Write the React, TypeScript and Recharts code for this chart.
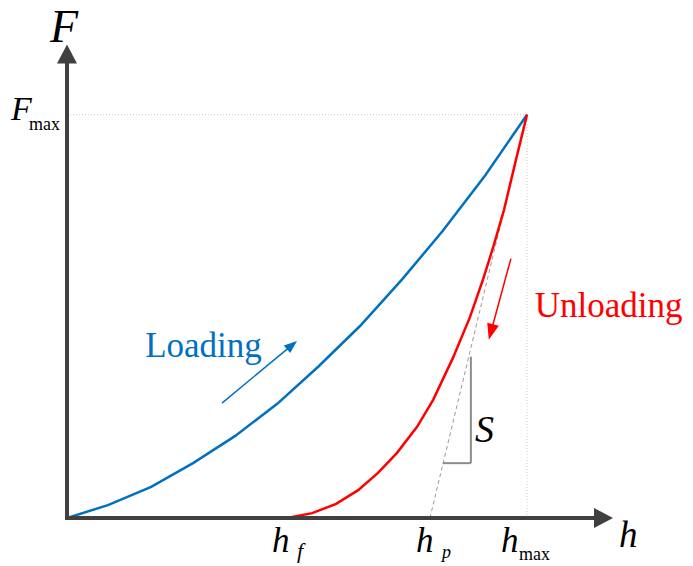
import React from 'react';
import { LineChart, Line, XAxis, YAxis, ReferenceLine, ReferenceDot } from 'recharts';

// Indentation depth h and load F, both normalised so that h_max = F_max = 100
const loadingH = [0, 8.9, 18.3, 27.4, 36.5, 45.7, 54.6, 63.7, 72.8, 81.7, 90.9, 100];
const loadingF = [0, 3.2, 7.7, 13.6, 20.3, 28.3, 37.5, 47.6, 59.1, 71.2, 84.9, 100];
const unloadingH = [47.8, 53.3, 58.5, 63.3, 67.6, 71.7, 76.1, 79.6, 83.9, 87.6, 90.4, 92.8, 95.0, 97.6, 100];
const unloadingF = [0, 1.2, 3.5, 6.9, 11.2, 16.1, 22.6, 29.3, 39.7, 49.8, 59.0, 67.7, 76.4, 88.8, 100];

const H_MAX = 100;
const F_MAX = 100;
const H_F = 47.8; // residual depth
const H_P = 78.9; // intercept of the unloading tangent
const AXIS_END_H = 118.7;
const AXIS_END_F = 117.4;

// Stiffness triangle under the tangent
const S_LEFT_H = 81.7;
const S_RIGHT_H = 87.8;
const S_BOTTOM_F = 13.6;
const S_TOP_F = 40.0;

const loadingData = loadingH.map((h, i) => ({ h, F: loadingF[i] }));
const unloadingData = unloadingH.map((h, i) => ({ h, F: unloadingF[i] }));

const SERIF = "'Liberation Serif', 'DejaVu Serif', serif";
const BLUE = '#0070C0';
const RED = '#FF0000';
const AXIS = '#404040';

const arrowShape = (color: string, width: number, headLen: number, headHalf: number, cap?: string) => (props: any) => {
  const { x1, y1, x2, y2 } = props;
  const dx = x2 - x1;
  const dy = y2 - y1;
  const len = Math.hypot(dx, dy) || 1;
  const ux = dx / len;
  const uy = dy / len;
  const bx = x2 - ux * headLen;
  const by = y2 - uy * headLen;
  const px = -uy;
  const py = ux;
  return (
    <g>
      <line x1={x1} y1={y1} x2={bx + ux * 1} y2={by + uy * 1} stroke={color} strokeWidth={width} strokeLinecap={(cap as any) || 'butt'} />
      <polygon
        points={`${x2},${y2} ${bx + px * headHalf},${by + py * headHalf} ${bx - px * headHalf},${by - py * headHalf}`}
        fill={color}
      />
    </g>
  );
};

type Piece = { text: string; dx: number; dy: number; size: number; italic?: boolean; color?: string };

const textShape = (pieces: Piece[]) => (props: any) => {
  const { cx, cy } = props;
  return (
    <g>
      {pieces.map((p, i) => (
        <text
          key={i}
          x={cx + p.dx}
          y={cy + p.dy}
          fontFamily={SERIF}
          fontSize={p.size}
          fontStyle={p.italic ? 'italic' : 'normal'}
          fill={p.color || '#000'}
          style={{ fontFamily: SERIF }}
        >
          {p.text}
        </text>
      ))}
    </g>
  );
};

export default function App() {
  return (
    <div style={{ position: 'absolute', left: 0, top: 0, width: 693, height: 566, background: '#fff', fontFamily: SERIF }}>
      <LineChart width={693} height={566} margin={{ top: 34, right: 74, bottom: 48, left: 67 }} style={{ fontFamily: SERIF }}>
        <XAxis type="number" dataKey="h" domain={[0, 120]} hide allowDataOverflow />
        <YAxis type="number" dataKey="F" domain={[0, 120]} hide allowDataOverflow />

        {/* guide lines to the peak point */}
        <ReferenceLine
          segment={[{ x: 0, y: F_MAX }, { x: H_MAX, y: F_MAX }]}
          stroke="#C8C8C8"
          strokeWidth={1}
          strokeDasharray="1 2"
        />
        <ReferenceLine
          segment={[{ x: H_MAX, y: 0 }, { x: H_MAX, y: F_MAX }]}
          stroke="#C8C8C8"
          strokeWidth={1}
          strokeDasharray="1 2"
        />

        {/* tangent to the unloading curve at the peak */}
        <ReferenceLine
          segment={[{ x: H_P, y: 0 }, { x: H_MAX, y: F_MAX }]}
          stroke="#9A9A9A"
          strokeWidth={1}
          strokeDasharray="4 3"
        />

        {/* stiffness triangle */}
        <ReferenceLine
          segment={[{ x: S_RIGHT_H, y: S_BOTTOM_F }, { x: S_RIGHT_H, y: S_TOP_F }]}
          stroke="#8C8C8C"
          strokeWidth={2}
        />
        <ReferenceLine
          segment={[{ x: S_LEFT_H, y: S_BOTTOM_F }, { x: S_RIGHT_H, y: S_BOTTOM_F }]}
          stroke="#8C8C8C"
          strokeWidth={2}
        />

        <Line
          data={loadingData}
          dataKey="F"
          type="linear"
          stroke={BLUE}
          strokeWidth={2.5}
          dot={false}
          activeDot={false}
          isAnimationActive={false}
        />
        <Line
          data={unloadingData}
          dataKey="F"
          type="linear"
          stroke={RED}
          strokeWidth={2.5}
          dot={false}
          activeDot={false}
          isAnimationActive={false}
        />

        {/* direction arrows */}
        <ReferenceLine
          segment={[{ x: 33.7, y: 28.5 }, { x: 50.0, y: 43.9 }]}
          shape={arrowShape(BLUE, 1.5, 13, 5)}
        />
        <ReferenceLine
          segment={[{ x: 96.5, y: 64.3 }, { x: 91.7, y: 44.2 }]}
          shape={arrowShape(RED, 1.5, 16, 6)}
        />

        {/* axes with arrow heads */}
        <ReferenceLine
          segment={[{ x: 0, y: 0 }, { x: AXIS_END_H, y: 0 }]}
          shape={arrowShape(AXIS, 4, 19, 10, 'square')}
          ifOverflow="visible"
        />
        <ReferenceLine
          segment={[{ x: 0, y: 0 }, { x: 0, y: AXIS_END_F }]}
          shape={arrowShape(AXIS, 4, 19, 10, 'square')}
          ifOverflow="visible"
        />

        {/* labels */}
        <ReferenceDot
          x={0}
          y={AXIS_END_F}
          r={0}
          ifOverflow="visible"
          shape={textShape([{ text: 'F', dx: -17, dy: -2, size: 46, italic: true }])}
        />
        <ReferenceDot
          x={0}
          y={F_MAX}
          r={0}
          ifOverflow="visible"
          shape={textShape([
            { text: 'F', dx: -56, dy: 5, size: 34, italic: true },
            { text: 'max', dx: -38, dy: 15, size: 18 },
          ])}
        />
        <ReferenceDot
          x={AXIS_END_H}
          y={0}
          r={0}
          ifOverflow="visible"
          shape={textShape([{ text: 'h', dx: 6, dy: 29, size: 37, italic: true }])}
        />
        <ReferenceDot
          x={H_F}
          y={0}
          r={0}
          ifOverflow="visible"
          shape={textShape([
            { text: 'h', dx: -15, dy: 34, size: 35, italic: true },
            { text: 'f', dx: 10, dy: 40, size: 22, italic: true },
          ])}
        />
        <ReferenceDot
          x={H_P}
          y={0}
          r={0}
          ifOverflow="visible"
          shape={textShape([
            { text: 'h', dx: -14, dy: 34, size: 35, italic: true },
            { text: 'p', dx: 12, dy: 40, size: 18, italic: true },
          ])}
        />
        <ReferenceDot
          x={H_MAX}
          y={0}
          r={0}
          ifOverflow="visible"
          shape={textShape([
            { text: 'h', dx: -26, dy: 34, size: 35, italic: true },
            { text: 'max', dx: -8, dy: 42, size: 18 },
          ])}
        />
        <ReferenceDot
          x={S_RIGHT_H}
          y={S_BOTTOM_F}
          r={0}
          ifOverflow="visible"
          shape={textShape([{ text: 'S', dx: 4, dy: -21, size: 38, italic: true }])}
        />
        <ReferenceDot
          x={17.0}
          y={40.0}
          r={0}
          ifOverflow="visible"
          shape={textShape([{ text: 'Loading', dx: 0, dy: 0, size: 35, color: BLUE }])}
        />
        <ReferenceDot
          x={101.7}
          y={49.9}
          r={0}
          ifOverflow="visible"
          shape={textShape([{ text: 'Unloading', dx: 0, dy: 0, size: 35, color: RED }])}
        />
      </LineChart>
    </div>
  );
}
